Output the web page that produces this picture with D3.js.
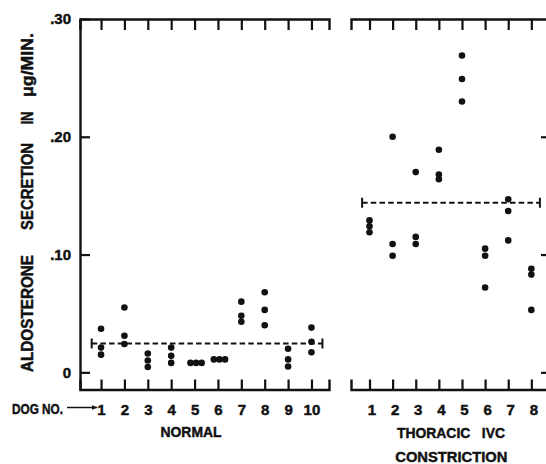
<!DOCTYPE html>
<html>
<head>
<meta charset="utf-8">
<script src="https://cdn.jsdelivr.net/npm/d3@7"></script>
<style>
  html, body { margin: 0; padding: 0; background: #fff; }
  svg text { font-family: "Liberation Sans", Arial, Helvetica, sans-serif !important; font-weight: bold !important; fill: #111; stroke: #111; stroke-width: 0.45px; }
</style>
</head>
<body>
<svg id="chart" width="546" height="464"></svg>
<script>
// ---- Data ----
const dogsNormal = [1, 2, 3, 4, 5, 6, 7, 8, 9, 10];
const normalValues = [
  [0.037, 0.021, 0.015],
  [0.055, 0.031, 0.024],
  [0.016, 0.010, 0.0045],
  [0.021, 0.014, 0.008],
  [0.008, 0.008, 0.008],
  [0.011, 0.011, 0.011],
  [0.060, 0.048, 0.043],
  [0.068, 0.053, 0.040],
  [0.020, 0.011, 0.005],
  [0.038, 0.026, 0.017]
];
const dogsConstriction = [1, 2, 3, 4, 5, 6, 7, 8];
const constrictionValues = [
  [0.129, 0.124, 0.119],
  [0.200, 0.109, 0.099],
  [0.170, 0.115, 0.109],
  [0.189, 0.168, 0.164],
  [0.269, 0.249, 0.230],
  [0.105, 0.099, 0.072],
  [0.147, 0.137, 0.112],
  [0.088, 0.083, 0.053]
];
const meanNormal = 0.0245;
const meanConstriction = 0.144;
const yTicks = [0, 0.10, 0.20, 0.30];
const yTickLabels = ["0", ".10", ".20", ".30"];
const yTitleWords = ["ALDOSTERONE", "SECRETION", "IN", "\u03BCg/MIN."];
const groupLabels = ["NORMAL", "THORACIC   IVC", "CONSTRICTION"];
const dogLabel = "DOG NO.";

// ---- Layout ----
const svg = d3.select("#chart");
const topY = 19, bottomY = 389.5;
const ink = "#111";
const y = d3.scaleLinear().domain([-0.015, 0.30]).range([390, topY]);
const xL = d3.scaleLinear().domain([0.1, 10.75]).range([80, 329]);
const xR = d3.scaleLinear().domain([0.2, 8.72]).range([351, 548]);

function styleAxis(g) {
  g.attr("font-family", null).attr("font-size", null);
  g.selectAll("path.domain").attr("stroke", ink).attr("stroke-width", 2.4);
  g.selectAll(".tick line").attr("stroke", ink).attr("stroke-width", 2.2);
}

// Left panel axes
svg.append("g").attr("transform", `translate(0,${topY})`)
  .call(d3.axisTop(xL).tickValues(dogsNormal).tickSizeInner(-11).tickSizeOuter(-11).tickFormat(""))
  .call(styleAxis);
const bL = svg.append("g").attr("transform", `translate(0,${bottomY})`)
  .call(d3.axisBottom(xL).tickValues(dogsNormal).tickSizeInner(-10).tickSizeOuter(-10).tickPadding(14.5))
  .call(styleAxis);
bL.selectAll(".tick text").attr("font-size", 15).attr("fill", ink);

const yl = svg.append("g").attr("transform", `translate(80,0)`)
  .call(d3.axisLeft(y).tickValues(yTicks).tickSizeInner(-10).tickSizeOuter(0).tickPadding(9)
    .tickFormat((d, i) => yTickLabels[i]))
  .call(styleAxis);
yl.selectAll(".tick text").attr("font-size", 15).attr("fill", ink);

// Right panel axes
svg.append("g").attr("transform", `translate(0,${topY})`)
  .call(d3.axisTop(xR).tickValues(dogsConstriction).tickSizeInner(-11).tickSizeOuter(-11).tickFormat(""))
  .call(styleAxis);
const bR = svg.append("g").attr("transform", `translate(0,${bottomY})`)
  .call(d3.axisBottom(xR).tickValues(dogsConstriction).tickSizeInner(-10).tickSizeOuter(-10).tickPadding(14.5))
  .call(styleAxis);
bR.selectAll(".tick text").attr("font-size", 15).attr("fill", ink).attr("dx", 2);
svg.append("g").attr("transform", `translate(548,0)`)
  .call(d3.axisLeft(y).tickValues(yTicks.slice(0, 3)).tickSizeInner(7).tickSizeOuter(0).tickFormat(""))
  .call(styleAxis);

// Points
function drawPoints(xs, dogs, values) {
  const pts = [];
  dogs.forEach((dog, i) => {
    const vals = values[i];
    const counts = {};
    vals.forEach(v => counts[v] = (counts[v] || 0) + 1);
    const seen = {};
    vals.forEach(v => {
      const n = counts[v];
      const k = seen[v] = (seen[v] || 0) + 1;
      const off = n > 1 ? (k - 1 - (n - 1) / 2) * 5.6 + 1.5 : 0;
      pts.push({dog, v, off});
    });
  });
  svg.append("g").selectAll("circle").data(pts).join("circle")
    .attr("cx", d => xs(d.dog) + d.off)
    .attr("cy", d => y(d.v))
    .attr("r", 3.3)
    .attr("fill", ink);
}
drawPoints(xL, dogsNormal, normalValues);
drawPoints(xR, dogsConstriction, constrictionValues);

// Mean lines (dashed with end caps)
function meanLine(xs, dogs, m, padL, padR) {
  const x0 = xs(dogs[0] - padL), x1 = xs(dogs[dogs.length - 1] + padR), yy = y(m);
  const g = svg.append("g");
  g.append("line").attr("x1", x0).attr("x2", x1).attr("y1", yy).attr("y2", yy)
    .attr("stroke", ink).attr("stroke-width", 2.2).attr("stroke-dasharray", "5.5,3.2");
  [x0, x1].forEach(xx => g.append("line").attr("x1", xx).attr("x2", xx)
    .attr("y1", yy - 5).attr("y2", yy + 5).attr("stroke", ink).attr("stroke-width", 2));
}
meanLine(xL, dogsNormal, meanNormal, 0.4, 0.47);
meanLine(xR, dogsConstriction, meanConstriction, 0.32, 0.37);

// Dog No. label + arrow
svg.append("defs").append("marker").attr("id", "arr").attr("viewBox", "0 0 10 10")
  .attr("refX", 9).attr("refY", 5).attr("markerWidth", 6).attr("markerHeight", 6)
  .attr("orient", "auto").attr("markerUnits", "userSpaceOnUse")
  .append("path").attr("d", "M0,1 L10,5 L0,9 Z").attr("fill", ink);
svg.append("text").attr("x", 12).attr("y", 414).attr("font-size", 15)
  .attr("textLength", 51).attr("lengthAdjust", "spacingAndGlyphs").text(dogLabel);
svg.append("line").attr("x1", 67).attr("x2", 97).attr("y1", 407.5).attr("y2", 407.5)
  .attr("stroke", ink).attr("stroke-width", 1.5).attr("marker-end", "url(#arr)");

// Group labels
svg.append("text").attr("x", 191).attr("y", 437).attr("font-size", 15).attr("text-anchor", "middle")
  .attr("textLength", 61).attr("lengthAdjust", "spacingAndGlyphs").text(groupLabels[0]);
svg.append("text").attr("x", 451).attr("y", 437.5).attr("font-size", 15).attr("text-anchor", "middle")
  .attr("textLength", 108).attr("lengthAdjust", "spacingAndGlyphs").style("white-space", "pre").text(groupLabels[1]);
svg.append("text").attr("x", 451.3).attr("y", 461.5).attr("font-size", 15).attr("text-anchor", "middle")
  .attr("textLength", 112).attr("lengthAdjust", "spacingAndGlyphs").text(groupLabels[2]);

// Y-axis title (word by word, rotated)
const titleCenters = [313.5, 186.5, 118, 65];
const titleLens = [117, 87, 13, 64];
yTitleWords.forEach((w, i) => {
  svg.append("text")
    .attr("transform", `translate(33,${titleCenters[i]}) rotate(-90)`)
    .attr("text-anchor", "middle").attr("font-size", 16)
    .attr("textLength", titleLens[i]).attr("lengthAdjust", "spacingAndGlyphs")
    .text(w);
});
</script>
</body>
</html>
